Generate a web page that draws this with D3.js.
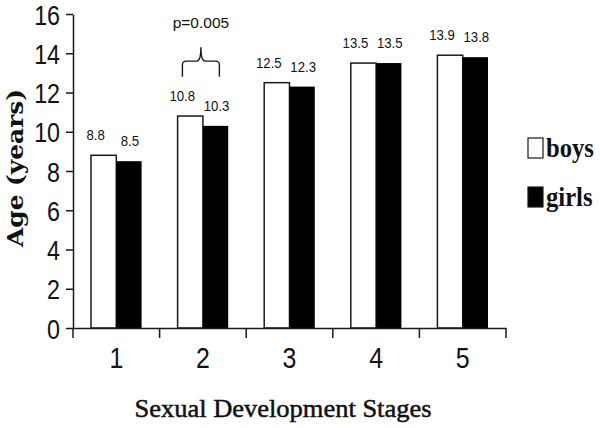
<!DOCTYPE html>
<html><head><meta charset="utf-8">
<script src="https://cdn.jsdelivr.net/npm/d3@7"></script>
<style>body{margin:0;background:#fff}svg{display:block}</style>
</head><body>
<script>
const stages = ["1","2","3","4","5"];
const seriesNames = ["boys","girls"];
const boys = [8.8, 10.8, 12.5, 13.5, 13.9];
const girls = [8.5, 10.3, 12.3, 13.5, 13.8];
const yTicks = [0,2,4,6,8,10,12,14,16];
const pLabel = "p=0.005";
const xTitle = "Sexual Development Stages";
const yTitle = "Age (years)";

const W = 600, H = 428;
const svg = d3.select("body").append("svg").attr("width", W).attr("height", H);
const sans = "'Liberation Sans', Arial, sans-serif";

// condense a text selection horizontally (narrow-font look)
function condense(sel, k) {
  sel.each(function() {
    const len = this.getComputedTextLength();
    d3.select(this).attr("textLength", len * k).attr("lengthAdjust", "spacingAndGlyphs");
  });
}

const x = d3.scaleBand().domain(stages).range([73, 506]).paddingInner(0).paddingOuter(0);
const sub = d3.scaleBand().domain(seriesNames).range([18, x.bandwidth() - 18]);
const y = d3.scaleLinear().domain([0, 16]).range([328, 14]);
const fills = {boys: "#fff", girls: "#000"};
const ink = "#1a1a1a";

const data = stages.map((s, i) => ({stage: s, values: [{key: "boys", v: boys[i]}, {key: "girls", v: girls[i]}]}));

const g = svg.append("g");
const grp = g.selectAll("g.grp").data(data).join("g").attr("transform", d => `translate(${x(d.stage)},0)`);
grp.selectAll("rect").data(d => d.values).join("rect")
  .attr("x", d => sub(d.key))
  .attr("y", d => y(d.v))
  .attr("width", sub.bandwidth())
  .attr("height", d => y(0) - y(d.v))
  .attr("fill", d => fills[d.key])
  .attr("stroke", d => d.key === "boys" ? ink : "none")
  .attr("stroke-width", 1.5);

const vals = grp.selectAll("text.val").data(d => d.values).join("text")
  .attr("class", "val")
  .attr("x", d => sub(d.key) + sub.bandwidth() / 2 + (d.key === "boys" ? -8 : 1))
  .attr("y", d => y(d.v) - 15)
  .attr("text-anchor", "middle")
  .attr("font-family", sans)
  .attr("font-size", 15.5)
  .attr("fill", "#111")
  .text(d => d.v.toFixed(1));
condense(vals, 0.85);

// Y axis
const yAxis = svg.append("g").attr("transform", "translate(73,0)")
  .call(d3.axisLeft(y).tickValues(yTicks).tickSize(7).tickSizeOuter(0).tickPadding(6).tickFormat(d3.format("d")));
yAxis.selectAll("path,line").attr("stroke", ink).attr("stroke-width", 1.5);
yAxis.selectAll("text").attr("font-family", sans)
  .attr("font-size", 28).attr("fill", "#111").attr("dy", "0.36em");
condense(yAxis.selectAll("text"), 0.83);

// X axis
const xAxis = svg.append("g").attr("transform", "translate(0,328)")
  .call(d3.axisBottom(x).tickSize(0).tickSizeOuter(0).tickPadding(19));
xAxis.selectAll("path").attr("stroke", ink).attr("stroke-width", 1.5);
xAxis.selectAll("text").attr("font-family", sans)
  .attr("font-size", 30).attr("fill", "#111");
condense(xAxis.selectAll("text"), 0.83);
const bounds = stages.map(s => x(s)).concat([x.range()[1]]);
xAxis.selectAll("line.bound").data(bounds).join("line").attr("class", "bound")
  .attr("x1", d => d).attr("x2", d => d).attr("y1", 0).attr("y2", 10)
  .attr("stroke", ink).attr("stroke-width", 1.5);

// Titles
svg.append("text").attr("x", 283).attr("y", 417).attr("text-anchor", "middle")
  .attr("font-family", "'Liberation Serif', 'Times New Roman', serif").attr("font-size", 26)
  .attr("fill", "#111").attr("stroke", "#111").attr("stroke-width", 0.5)
  .attr("textLength", 297).attr("lengthAdjust", "spacingAndGlyphs").text(xTitle);
svg.append("text").attr("transform", "translate(23,168) rotate(-90)").attr("text-anchor", "middle")
  .attr("font-family", "'DejaVu Serif', serif").attr("font-weight", "bold").attr("font-size", 23)
  .attr("fill", "#111").attr("textLength", 158).attr("lengthAdjust", "spacingAndGlyphs").text(yTitle);

// Significance bracket on stage 2
const cx = x("2") + x.bandwidth() / 2 - 2;
const hw = 18.5;
const yb = y(12.8), yh = y(13.6), yt = y(14.3);
const r = 4;
const brace = `M${cx - hw},${yb} L${cx - hw},${yh + r} Q${cx - hw},${yh} ${cx - hw + r},${yh} L${cx - r},${yh} Q${cx},${yh} ${cx},${yt}
 Q${cx},${yh} ${cx + r},${yh} L${cx + hw - r},${yh} Q${cx + hw},${yh} ${cx + hw},${yh + r} L${cx + hw},${yb}`;
svg.append("path").attr("d", brace).attr("fill", "none").attr("stroke", ink).attr("stroke-width", 1.4);
svg.append("text").attr("x", cx).attr("y", 28).attr("text-anchor", "middle")
  .attr("font-family", sans).attr("font-size", 15.5).attr("fill", "#111").text(pLabel);

// Legend
const leg = svg.append("g").selectAll("g").data(seriesNames).join("g")
  .attr("transform", (d, i) => `translate(528,${138 + i * 49})`);
leg.append("rect").attr("width", 15).attr("height", 20)
  .attr("fill", d => fills[d]).attr("stroke", ink).attr("stroke-width", 1.2);
const legText = leg.append("text").attr("x", 18).attr("y", 19)
  .attr("font-family", "'Liberation Serif', 'Times New Roman', serif").attr("font-weight", "bold").attr("font-size", 28)
  .attr("fill", "#111").text(d => d);
condense(legText, 0.88);
</script>
</body></html>
